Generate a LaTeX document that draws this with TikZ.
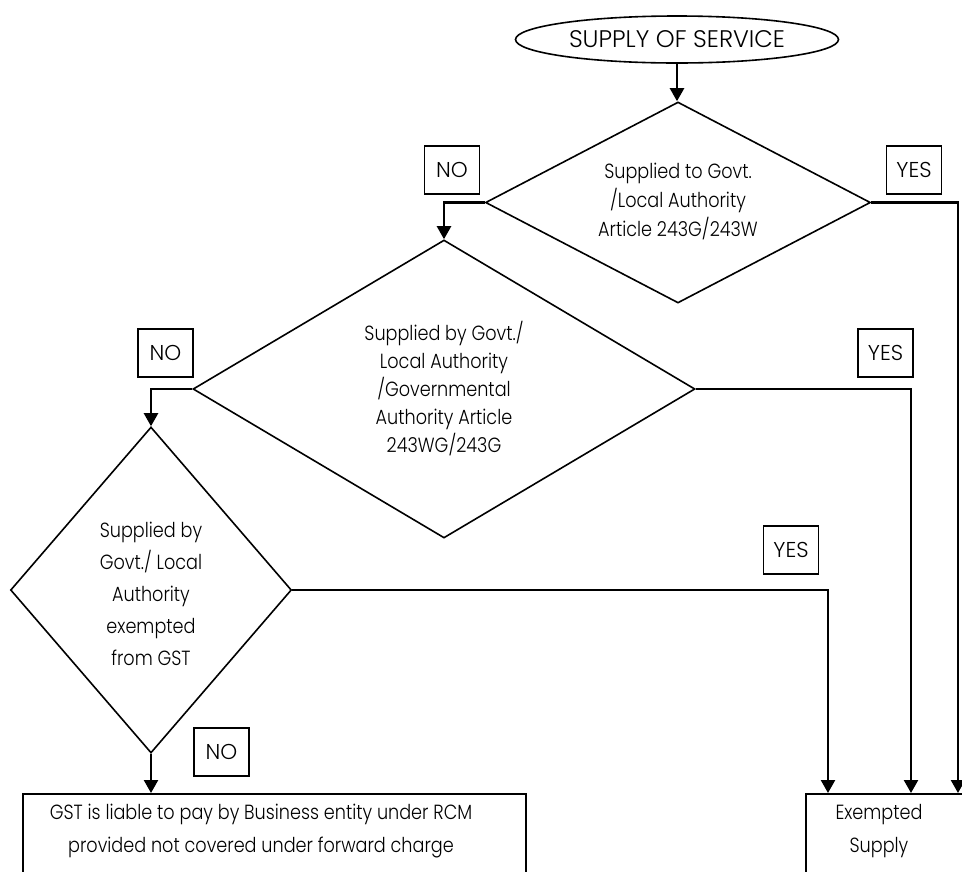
\documentclass[tikz,border=0pt]{standalone}
\usepackage{fontspec}
\setmainfont{Poppins}[UprightFont=* Light,FakeStretch=0.86]
\newfontfamily\capsfont{Poppins}[UprightFont=* Light]
\usetikzlibrary{shapes.geometric,arrows.meta,calc}
\begin{document}
\begin{tikzpicture}[x=1pt,y=-1pt,
  outl/.style={draw,line width=1.6pt,inner sep=0pt,line join=miter},
  dec/.style={outl,diamond},
  lab/.style={draw,line width=1.4pt,minimum width=55pt,minimum height=48pt,inner sep=0pt,font=\capsfont\fontsize{21.5}{24}\selectfont},
  txt/.style={align=center,inner sep=0pt,font=\fontsize{20.5}{#1}\selectfont},
  txt/.default=29,
  arr/.style={line width=2.4pt,line join=miter,-{Triangle[length=13pt,width=14pt]}}
]
\useasboundingbox (0,0) rectangle (962,871);
\clip (0,0) rectangle (962,871);
% start
\node[outl,ellipse,minimum width=323pt,minimum height=47pt,font=\capsfont\fontsize{24}{27}\selectfont] (start) at (677,39.5) {SUPPLY OF SERVICE};
% decisions
\node[dec,minimum width=385pt,minimum height=201pt] (d1) at (678,202.5) {};
\node[txt] (d1t) at (678,201) {Supplied to Govt.\\/Local Authority\\Article 243G/243W};
\node[dec,minimum width=502pt,minimum height=298pt] (d2) at (444,389) {};
\node[txt=28] (d2t) at (444,389) {Supplied by Govt./\\Local Authority\\/Governmental\\Authority Article\\243WG/243G};
\node[dec,minimum width=281pt,minimum height=326pt] (d3) at (151,590) {};
\node[txt=32] (d3t) at (151,594) {Supplied by\\Govt./ Local\\Authority\\exempted\\from GST};
% results
\node[outl,anchor=north west,minimum width=503pt,minimum height=120pt] (gst) at (22,793) {};
\node[txt=33] (gstt) at (261,831) {GST is liable to pay by Business entity under RCM\\provided not covered under forward charge};
\node[outl,anchor=north west,minimum width=200pt,minimum height=120pt] (ex) at (805,793) {};
\node[txt=33] (ext) at (879,831) {Exempted\\Supply};
% labels
\node[lab] (no1) at (452,170) {NO};
\node[lab] (yes1) at (914,170) {YES};
\node[lab] (no2) at (165.5,353) {NO};
\node[lab] (yes2) at (885.5,353) {YES};
\node[lab] (yes3) at (791,550) {YES};
\node[lab] (no3) at (221.5,752) {NO};
% connectors
\draw[arr] (start.south) -- (start.south |- d1.north);
\draw[arr] (d1.west) -| (d2.north);
\draw[arr] (d2.west) -| (d3.north);
\draw[arr] (d3.south) -- (d3.south |- gst.north);
\draw[arr] (d1.east) -| ($(ex.north west)+(153,0)$);
\draw[arr] (d2.east) -| ($(ex.north west)+(106,0)$);
\draw[arr] (d3.east) -| ($(ex.north west)+(23,0)$);
\end{tikzpicture}
\end{document}
